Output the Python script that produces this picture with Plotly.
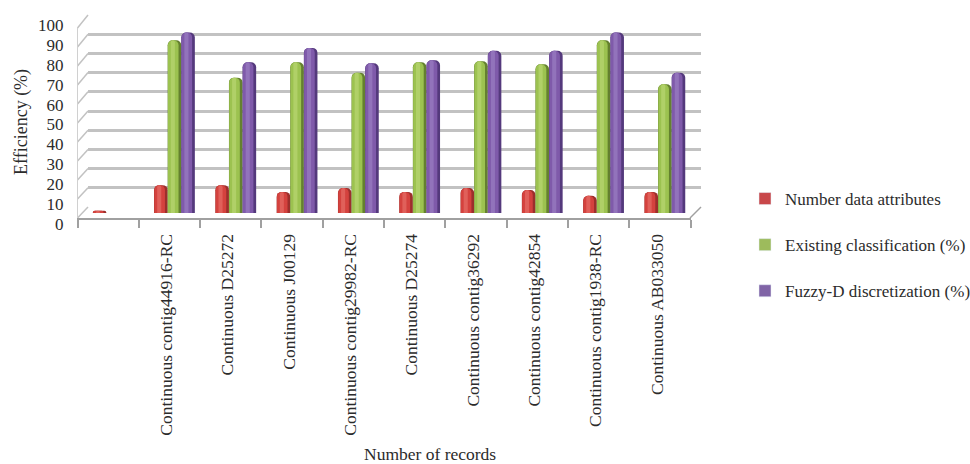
import plotly.graph_objects as go

# Chart data
categories = [" ", "Continuous contig44916-RC", "Continuous D25272", "Continuous J00129",
              "Continuous contig29982-RC", "Continuous D25274", "Continuous contig36292",
              "Continuous contig42854", "Continuous contig1938-RC", "Continuous AB033050"]
attributes = [1.2, 14.5, 14.5, 11, 13, 11, 13, 12, 9, 11]
existing = [None, 90, 70.5, 78.5, 73, 78.5, 79, 77.5, 90, 67]
fuzzy = [None, 94, 78.5, 86, 78, 79.5, 84.5, 84.5, 94, 73]
y_ticks = list(range(0, 101, 10))

W, H = 970, 464
FONT = "Liberation Serif"
INK = "#2b2b2b"
GRID = "#c2c2c2"
AXIS = "#a0a0a0"


def px_x(p):
    return p / W


def px_y(p):
    return 1 - p / H


fig = go.Figure()

# Cylinder look: a dark full-width bar, then lighter strips stacked on top of it
series = [
    ("Number data attributes", attributes, -1, ["#9c2f2c", "#d4423e", "#e0605a"], "#c8474a"),
    ("Existing classification (%)", existing, 0, ["#64802f", "#9cc250", "#b0d068"], "#9dbb5c"),
    ("Fuzzy-D discretization (%)", fuzzy, 1, ["#54397c", "#7f5aaa", "#9273bb"], "#8064a6"),
]
STEP = 13.6 / 61.3
STRIPS = [(1.0, 0.0), (0.78, -0.09), (0.3, -0.12)]

for name, values, slot, shades, key in series:
    # legend-only trace carrying the flat key colour
    fig.add_trace(go.Bar(
        x=categories, y=[None] * len(categories), name=name, marker_color=key,
        xaxis="x2", yaxis="y2", legendgroup=name, showlegend=True,
    ))
    for (frac, shift), colour in zip(STRIPS, shades):
        w = STEP * frac
        fig.add_trace(go.Bar(
            x=categories, y=values, width=w, offset=slot * STEP + shift * STEP - w / 2,
            marker=dict(color=colour, line_width=0, cornerradius=5),
            xaxis="x2", yaxis="y2", showlegend=False, legendgroup=name, hoverinfo="skip",
        ))

# Empty traces keep the wall, frame and label axes alive
for xa, ya in [("x", "y"), ("x3", "y3"), ("x3", "y4")]:
    fig.add_trace(go.Scatter(x=categories, y=[None] * len(categories), mode="lines",
                             xaxis=xa, yaxis=ya, showlegend=False, hoverinfo="skip"))

# Depth lines joining the front axis to the back wall
shapes = []
front_top, front_bottom = 28, 218
wall_top, wall_bottom = 15, 207
for i, v in enumerate(y_ticks):
    yf = front_bottom - (front_bottom - front_top) * v / 100
    yw = wall_bottom - (wall_bottom - wall_top) * v / 100
    shapes.append(dict(type="line", xref="paper", yref="paper", layer="below",
                       x0=px_x(77.5), y0=px_y(yf), x1=px_x(88), y1=px_y(yw),
                       line=dict(color=GRID, width=1.5)))
shapes.append(dict(type="line", xref="paper", yref="paper", layer="below",
                   x0=px_x(690), y0=px_y(front_bottom), x1=px_x(701), y1=px_y(wall_bottom),
                   line=dict(color=AXIS, width=1.5)))

x_common = dict(categoryorder="array", categoryarray=categories, range=[-0.5, 9.5],
                type="category", automargin=False)

fig.update_layout(
    width=W, height=H, margin=dict(l=0, r=0, t=0, b=0, autoexpand=False),
    paper_bgcolor="white", plot_bgcolor="rgba(0,0,0,0)",
    barmode="overlay", shapes=shapes,
    font=dict(family=FONT, color=INK, size=14),
    # back wall
    xaxis=dict(domain=[px_x(88), px_x(701)], visible=False, anchor="y", **x_common),
    yaxis=dict(domain=[px_y(wall_bottom), px_y(wall_top)], range=[0, 100], tickvals=y_ticks,
               showticklabels=False, ticks="", showgrid=True, gridcolor=GRID, gridwidth=2.5,
               zeroline=False, showline=False, anchor="x", automargin=False),
    # bars stand midway between the front axis and the wall
    xaxis2=dict(domain=[px_x(82.5), px_x(695.5)], visible=False, anchor="y2", **x_common),
    yaxis2=dict(domain=[px_y(213), px_y(21)], range=[0, 100], visible=False, anchor="x2",
                automargin=False),
    # front frame with the category labels
    xaxis3=dict(domain=[px_x(77.5), px_x(690.5)], anchor="y3", tickson="boundaries",
                ticks="outside", ticklen=8, tickcolor=AXIS, tickwidth=1.5, showline=True,
                linecolor=AXIS, linewidth=2, showgrid=False, tickangle=-90,
                tickfont=dict(size=17.5, family=FONT, color=INK), ticklabelstandoff=7,
                ticklabelshift=-3, **x_common),
    yaxis3=dict(domain=[px_y(front_bottom), px_y(front_top)], range=[0, 100], tickvals=y_ticks,
                showticklabels=False, ticks="", showline=True, linecolor="#d0d0d0", linewidth=1,
                showgrid=False, zeroline=False, anchor="x3", automargin=False),
    # value labels sit slightly wider apart than the tick marks
    yaxis4=dict(domain=[px_y(224), px_y(25)], range=[0, 100], tickvals=y_ticks,
                ticks="", showline=False, showgrid=False, zeroline=False, anchor="x3",
                tickfont=dict(size=17, family=FONT, color=INK), ticklabelstandoff=13,
                automargin=False),
    legend=dict(x=px_x(745), y=px_y(181), xanchor="left", yanchor="top",
                tracegroupgap=21, font=dict(size=17, family=FONT, color=INK),
                bgcolor="rgba(0,0,0,0)", itemclick=False, itemdoubleclick=False),
    annotations=[
        dict(text="Efficiency (%)", xref="paper", yref="paper", x=px_x(21), y=px_y(122),
             xanchor="center", yanchor="middle",
             textangle=-90, showarrow=False, font=dict(size=18, family=FONT, color=INK)),
        dict(text="Number of records", xref="paper", yref="paper", x=px_x(430), y=px_y(454),
             xanchor="center", yanchor="middle",
             showarrow=False, font=dict(size=17.5, family=FONT, color=INK)),
    ],
)

fig.write_html("out.html")
